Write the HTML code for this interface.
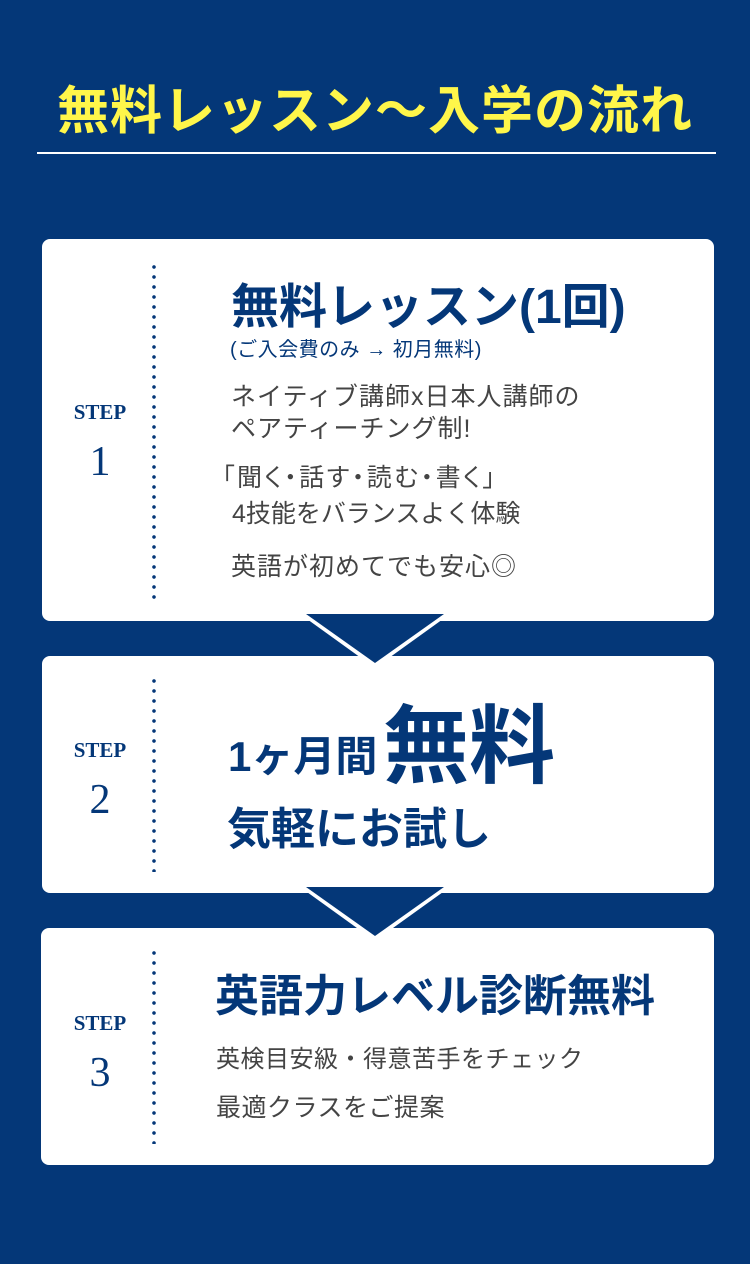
<!DOCTYPE html>
<html><head><meta charset="utf-8"><style>
body{margin:0;width:750px;height:1264px;background:#043778;position:relative;overflow:hidden;font-family:"Liberation Sans","Noto Sans CJK JP",sans-serif}
.a{position:absolute;white-space:nowrap;line-height:1}
.card{position:absolute;background:#fff;border-radius:8px}
.dots{position:absolute;left:152px;width:4px;background:radial-gradient(circle,#043778 1.6px,transparent 2px) 0 0/4px 10px repeat-y}
.step{position:absolute;left:50px;width:100px;text-align:center;color:#043778;font-family:"Liberation Serif",serif}
.b{color:#043778;font-weight:bold}
.g{color:#444;font-size:25px}
.p{font-feature-settings:"palt"}
</style></head><body>
<div class="a" style="left:0;width:750px;text-align:center;top:86px;font-size:52px;font-weight:bold;color:#fff64a;letter-spacing:1px">無料レッスン～入学の流れ</div>
<div class="a" style="left:37px;width:679px;top:152px;height:2px;background:#fff"></div>

<div class="card" style="left:42px;top:239px;width:672px;height:382px"></div>
<div class="card" style="left:42px;top:656px;width:672px;height:237px"></div>
<div class="card" style="left:41px;top:928px;width:673px;height:237px"></div>

<svg class="a" style="left:0;top:0" width="750" height="1264">
<polygon points="300,614 450,614 375,668" fill="#fff"/>
<polygon points="306,614 444,614 375,663" fill="#043778"/>
<polygon points="300,887 450,887 375,941" fill="#fff"/>
<polygon points="306,887 444,887 375,936" fill="#043778"/>
</svg>

<div class="dots" style="top:262px;height:338px"></div>
<div class="dots" style="top:676px;height:196px"></div>
<div class="dots" style="top:948px;height:196px"></div>

<div class="step" style="top:400px;font-size:21px;font-weight:bold">STEP</div>
<div class="step" style="top:438px;font-size:42px">1</div>
<div class="step" style="top:738px;font-size:21px;font-weight:bold">STEP</div>
<div class="step" style="top:776px;font-size:42px">2</div>
<div class="step" style="top:1011px;font-size:21px;font-weight:bold">STEP</div>
<div class="step" style="top:1049px;font-size:42px">3</div>

<div class="a b" style="left:231px;top:284px;font-size:48px">無料レッスン(1回)</div>
<div class="a" style="left:230px;top:340px;font-size:20px;letter-spacing:0.5px;color:#043778">(ご入会費のみ → 初月無料)</div>
<div class="a g" style="left:231px;top:385px;letter-spacing:1px">ネイティブ講師x日本人講師の</div>
<div class="a g" style="left:231px;top:417px;letter-spacing:1px">ペアティーチング制!</div>
<div class="a g p" style="left:222px;top:466px;letter-spacing:2.5px">「聞く・話す・読む・書く」</div>
<div class="a g" style="left:232px;top:502px">4技能をバランスよく体験</div>
<div class="a g" style="left:231px;top:555px;letter-spacing:1px">英語が初めてでも安心◎</div>

<div class="a b" style="left:228px;top:736px;font-size:42px">1ヶ月間</div>
<div class="a b" style="left:383px;top:704px;font-size:86px">無料</div>
<div class="a b" style="left:227px;top:808px;font-size:44px">気軽にお試し</div>

<div class="a b" style="left:215px;top:975px;font-size:44px">英語力レベル診断無料</div>
<div class="a g" style="left:216px;top:1048px;font-size:24px;letter-spacing:0.5px">英検目安級・得意苦手をチェック</div>
<div class="a g" style="left:216px;top:1096px;letter-spacing:0.5px">最適クラスをご提案</div>
</body></html>
